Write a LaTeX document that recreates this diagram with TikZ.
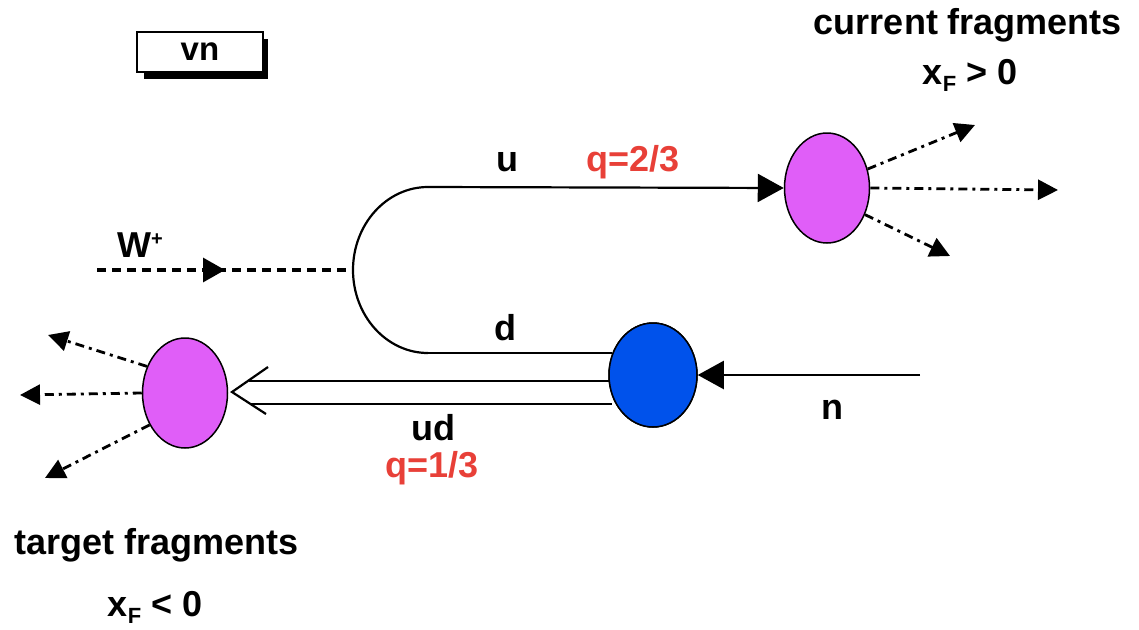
\documentclass[tikz,border=0pt]{standalone}
\usepackage{fontspec}
\setmainfont{Liberation Sans}
\usetikzlibrary{shapes.geometric,arrows.meta,decorations.markings}
\definecolor{pinkfill}{RGB}{224,94,248}
\definecolor{bluefill}{RGB}{0,82,235}
\definecolor{qred}{RGB}{232,64,56}
\newcommand{\subF}{\raisebox{-7pt}{\fontsize{22}{22}\selectfont F}}
\tikzset{
  lbl/.style={font=\fontsize{36}{40}\selectfont\bfseries, inner sep=0pt},
  qlbl/.style={lbl, text=qred},
  blob/.style={ellipse, draw=black, line width=1.5pt, minimum width=85pt, minimum height=110pt, inner sep=0pt},
  frag/.style={line width=2.8pt, dash pattern=on 9pt off 5pt on 3pt off 5pt, -{Triangle[length=20pt,width=20pt]}},
  quark/.style={line width=2.2pt},
  bigtip/.style={-{Triangle[length=26pt,width=28pt]}},
}
\begin{document}
\begin{tikzpicture}[x=1pt,y=-1pt]
\useasboundingbox (0,0) rectangle (1139,629);
% vn box
\fill[black] (144,39) rectangle (268,79);
\node[draw=black, fill=white, line width=1.5pt, minimum width=126pt, minimum height=40pt, inner sep=0pt, font=\fontsize{33}{36}\selectfont\bfseries] (vn) at (200,52) {vn};
% blobs
\node[blob, fill=pinkfill] (cur) at (827,188) {};
\node[blob, fill=pinkfill] (tgt) at (185,393) {};
\node[blob, fill=bluefill, minimum width=88pt, minimum height=104pt] (nuc) at (653,375) {};
% coordinates
\coordinate (uS) at (428,187);
\coordinate (dS) at (428,353);
\coordinate (wS) at (97,270);
\coordinate (wE) at (353,270);
\coordinate (nS) at (920,375);
\coordinate (tip) at (232,392);
\coordinate (armA) at (268,367);
\coordinate (armB) at (266,414);
\coordinate (l1a) at (249,381);
\coordinate (l1b) at (612,381);
\coordinate (l2a) at (250,404);
\coordinate (l2b) at (612,404);
\coordinate (dE) at (612,353);
% fragment ends
\coordinate (cf1) at (975,125);
\coordinate (cf2) at (1058,190);
\coordinate (cf3) at (950,256);
\coordinate (tf1) at (48,335);
\coordinate (tf2) at (20,395);
\coordinate (tf3) at (45,478);
% quark lines
\draw[quark] (uS) arc[start angle=270, end angle=90, x radius=75, y radius=83];
\draw[quark, bigtip] (uS) -- (cur.west);
\draw[quark] (dS) -- (dE);
\draw[quark] (l1a) -- (l1b);
\draw[quark] (l2a) -- (l2b);
\draw[quark, line join=miter] (armA) -- (tip) -- (armB);
\node[blob, fill=bluefill, minimum width=88pt, minimum height=104pt] at (653,375) {};
\draw[quark, bigtip] (nS) -- (nuc.east);
% W boson
\draw[line width=3.2pt, dash pattern=on 9pt off 6pt,
  decoration={markings, mark=at position 0.5 with {\arrow{Triangle[length=22pt,width=24pt]}}},
  postaction={decorate}] (wS) -- (wE);
% fragments
\draw[frag] (cur.25) -- (cf1);
\draw[frag] (cur.east) -- (cf2);
\draw[frag] (cur.-35) -- (cf3);
\draw[frag] (tgt.145) -- (tf1);
\draw[frag] (tgt.west) -- (tf2);
\draw[frag] (tgt.222) -- (tf3);
% labels
\node[lbl] (curlbl) at (968,25) {current fragments};
\node[lbl] (curx) at (970,75) {x\subF{} > 0};
\node[lbl] (ulbl) at (507,162) {u};
\node[qlbl] (q1) at (633,162) {q=2/3};
\node[lbl] (wlbl) at (140,245) {W\raisebox{12pt}{\fontsize{20}{20}\selectfont +}};
\node[lbl] (dlbl) at (505,328) {d};
\node[lbl] (nlbl) at (832,410) {n};
\node[lbl] (udlbl) at (433,428) {ud};
\node[qlbl] (q2) at (432,468) {q=1/3};
\node[lbl] (tgtlbl) at (157,545) {target fragments};
\node[lbl] (tgtx) at (155,607) {x\subF{} < 0};
\end{tikzpicture}
\end{document}
